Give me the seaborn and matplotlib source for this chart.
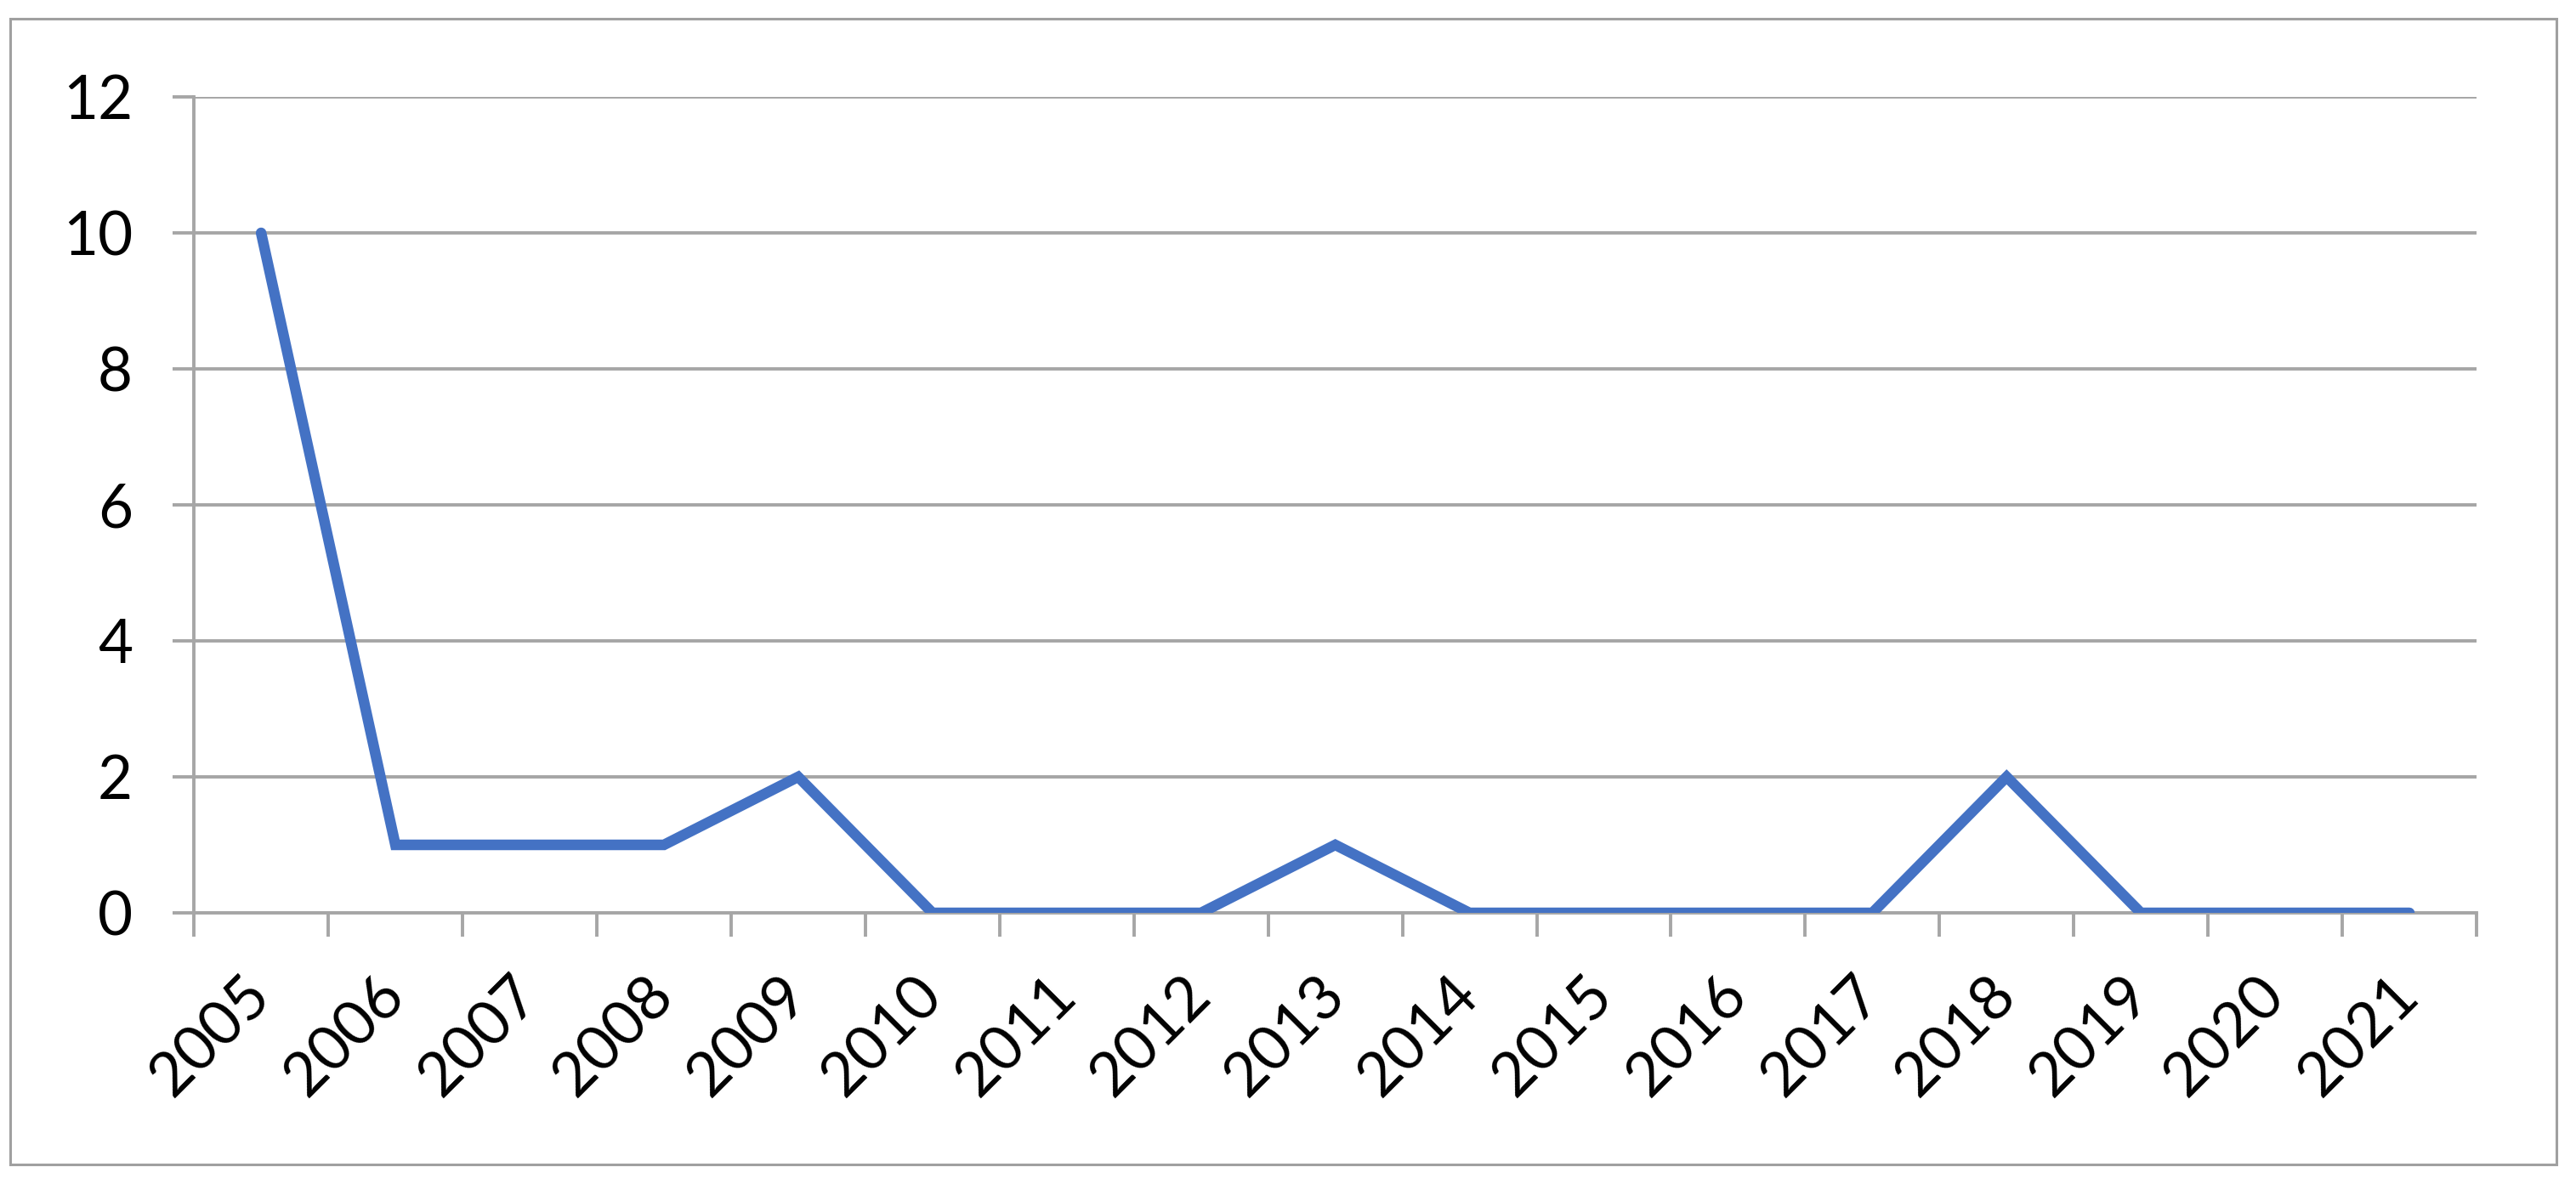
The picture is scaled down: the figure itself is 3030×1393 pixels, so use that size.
import matplotlib

matplotlib.use("Agg")

import matplotlib.pyplot as plt
import numpy as np
import pandas as pd
import seaborn as sns
from matplotlib.patches import Rectangle

# Data
years = ["2005", "2006", "2007", "2008", "2009", "2010", "2011", "2012", "2013",
         "2014", "2015", "2016", "2017", "2018", "2019", "2020", "2021"]
counts = [10, 1, 1, 1, 2, 0, 0, 0, 1, 0, 0, 0, 0, 2, 0, 0, 0]
y_ticks = [0, 2, 4, 6, 8, 10, 12]

GRID = "#a6a6a6"
LINE = "#4472C4"

sns.set_style("white")
plt.rcParams["font.family"] = ["Lato", "DejaVu Sans"]

df = pd.DataFrame({"pos": np.arange(len(years)), "year": years, "count": counts})

fig = plt.figure(figsize=(30.3, 13.93), dpi=100)
ax = fig.add_axes([0.0753, 0.2290, 0.8861, 0.6892])

sns.lineplot(data=df, x="pos", y="count", ax=ax, color=LINE,
             sort=False, zorder=3)
line = ax.lines[0]
line.set_linewidth(9.0)
line.set_solid_capstyle("round")
line.set_solid_joinstyle("miter")

ax.set_xlim(-0.5, len(years) - 0.5)
ax.set_ylim(0, 12)

# horizontal gridlines
ax.set_yticks(y_ticks)
ax.yaxis.grid(True, color=GRID, linewidth=2.8, zorder=0)
ax.xaxis.grid(False)

# category labels at centres, tick marks between categories
ax.set_xticks(df["pos"])
ax.set_xticklabels(years, rotation=45, ha="right", va="center",
                   rotation_mode="anchor")
ax.set_xticks(np.arange(-0.5, len(years)), minor=True)
ax.tick_params(axis="x", which="major", length=0, pad=62, labelsize=52,
               labelcolor="black")
ax.tick_params(axis="x", which="minor", length=20, width=2.8, color=GRID,
               direction="out", bottom=True)
ax.tick_params(axis="y", which="major", length=18, width=2.8, color=GRID,
               direction="out", left=True, pad=34, labelsize=51,
               labelcolor="black")

for side in ["top", "right"]:
    ax.spines[side].set_visible(False)
for side in ["left", "bottom"]:
    ax.spines[side].set_color(GRID)
    ax.spines[side].set_linewidth(2.8)

ax.set_xlabel("")
ax.set_ylabel("")

# outer chart border
fig.patches.append(Rectangle((0.004, 0.0165), 0.9884, 0.9677,
                             transform=fig.transFigure, fill=False,
                             edgecolor="#a0a0a0", linewidth=2.2))

fig.savefig("out.png", dpi=100)
